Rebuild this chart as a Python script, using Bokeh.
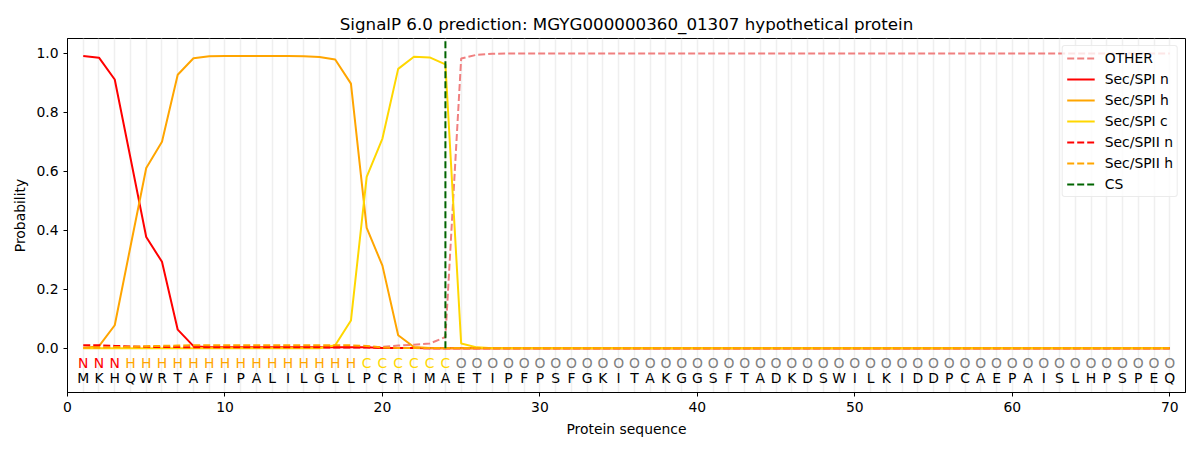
from bokeh.plotting import figure
from bokeh.models import FixedTicker, Range1d, Legend, LegendItem, ColumnDataSource, PrintfTickFormatter
from bokeh.core.properties import value
from bokeh.embed import file_html
from bokeh.resources import INLINE

title = "SignalP 6.0 prediction: MGYG000000360_01307 hypothetical protein"
sequence = list("MKHQWRTAFIPALILGLLPCRIMAETIPFPSFGKITAKGGSFTADKDSWILKIDDPCAEPAISLHPSPEQ")
labels = list("NNN" + "H" * 15 + "C" * 6 + "O" * 46)
positions = list(range(1, 71))

other = [0.002] * 19 + [0.005, 0.009, 0.012, 0.016, 0.038, 0.982, 0.995, 0.998] + [0.999] * 43
sp1_n = [0.991, 0.985, 0.911, 0.645, 0.377, 0.293, 0.063, 0.007] + [0.003] * 11 + [0.001] * 3 + [0.0] * 48
sp1_h = [0.001, 0.007, 0.078, 0.345, 0.611, 0.700, 0.927, 0.983, 0.990, 0.991, 0.991, 0.991,
         0.991, 0.991, 0.990, 0.987, 0.979, 0.897, 0.408, 0.280, 0.044, 0.004, 0.001] + [0.0] * 47
sp1_c = [0.0] * 16 + [0.010, 0.094, 0.581, 0.711, 0.947, 0.988, 0.986, 0.962, 0.016, 0.003] + [0.0] * 44
sp2_n = [0.010, 0.010, 0.008, 0.006, 0.005, 0.004, 0.004] + [0.003] * 12 + [0.001] * 3 + [0.0] * 48
sp2_h = [0.002, 0.002, 0.004, 0.005, 0.007, 0.008, 0.009] + [0.010] * 11 + [0.008, 0.003] + [0.001] * 50
cs_pos = 24

label_colors = {"N": "#ff0000", "H": "#ffa500", "C": "#ffd700", "O": "#808080"}

FONT = "DejaVu Sans"
FS = "13.9px"

p = figure(width=1192, height=442, output_backend="svg", toolbar_location=None,
           x_range=Range1d(0, 71), y_range=Range1d(-0.15, 1.05),
           min_border_left=67, min_border_right=7, min_border_top=38, min_border_bottom=50)
p.title.text = title
p.title.align = "center"
p.title.text_font = FONT
p.title.text_font_size = "16.7px"
p.title.text_font_style = "normal"
p.title.text_color = "#000000"

p.outline_line_color = "black"
p.outline_line_width = 1
p.background_fill_color = "white"

p.ygrid.visible = False
p.xgrid.ticker = FixedTicker(ticks=positions)
p.xgrid.grid_line_color = "#efefef"
p.xgrid.grid_line_width = 1.5

for ax in (p.xaxis[0], p.yaxis[0]):
    ax.axis_label_text_font = FONT
    ax.axis_label_text_font_size = FS
    ax.axis_label_text_font_style = "normal"
    ax.axis_label_text_color = "black"
    ax.major_label_text_font = FONT
    ax.major_label_text_font_size = FS
    ax.major_label_text_color = "black"
    ax.minor_tick_line_color = None
    ax.major_tick_out = 4
    ax.major_tick_in = 0
    ax.axis_line_color = "black"
p.xaxis.major_label_standoff = 5
p.xaxis.axis_label_standoff = 6
p.xaxis.axis_label = "Protein sequence"
p.yaxis.axis_label = "Probability"
p.xaxis.ticker = FixedTicker(ticks=[0, 10, 20, 30, 40, 50, 60, 70])
p.yaxis.ticker = FixedTicker(ticks=[0.0, 0.2, 0.4, 0.6, 0.8, 1.0])
p.yaxis.formatter = PrintfTickFormatter(format="%.1f")

src = ColumnDataSource(dict(x=positions, other=other, sp1_n=sp1_n, sp1_h=sp1_h, sp1_c=sp1_c,
                            sp2_n=sp2_n, sp2_h=sp2_h))

r_other = p.line("x", "other", source=src, line_color="#f08080", line_width=2, line_dash="7 3")
r_n = p.line("x", "sp1_n", source=src, line_color="#ff0000", line_width=2)
r_h = p.line("x", "sp1_h", source=src, line_color="#ffa500", line_width=2)
r_c = p.line("x", "sp1_c", source=src, line_color="#ffd700", line_width=2)
r_2n = p.line("x", "sp2_n", source=src, line_color="#ff0000", line_width=2, line_dash="7 3")
r_2h = p.line("x", "sp2_h", source=src, line_color="#ffa500", line_width=2, line_dash="7 3")
r_cs = p.line([cs_pos, cs_pos], [0, 1.05], line_color="#006400", line_width=2, line_dash="7 3")

lab_src = ColumnDataSource(dict(x=positions, lab=labels, aa=sequence,
                                col=[label_colors[l] for l in labels],
                                y1=[-0.05] * len(positions), y2=[-0.10] * len(positions)))
p.text("x", "y1", text="lab", source=lab_src, text_color="col", text_align="center",
       text_baseline="middle", text_font=value(FONT), text_font_size=FS)
p.text("x", "y2", text="aa", source=lab_src, text_color="black", text_align="center",
       text_baseline="middle", text_font=value(FONT), text_font_size=FS)

legend = Legend(items=[
    LegendItem(label="OTHER", renderers=[r_other]),
    LegendItem(label="Sec/SPI n", renderers=[r_n]),
    LegendItem(label="Sec/SPI h", renderers=[r_h]),
    LegendItem(label="Sec/SPI c", renderers=[r_c]),
    LegendItem(label="Sec/SPII n", renderers=[r_2n]),
    LegendItem(label="Sec/SPII h", renderers=[r_2h]),
    LegendItem(label="CS", renderers=[r_cs]),
], location="top_right")
legend.label_text_font = FONT
legend.label_text_font_size = FS
legend.label_text_color = "black"
legend.glyph_width = 28
legend.glyph_height = 16
legend.label_height = 16
legend.spacing = 5
legend.padding = 4
legend.margin = 7
legend.label_standoff = 10
legend.border_line_color = "#d8d8d8"
legend.border_line_width = 1
legend.border_radius = 3
legend.background_fill_alpha = 0.8
p.add_layout(legend)

open("out.html", "w").write(file_html(p, INLINE))
